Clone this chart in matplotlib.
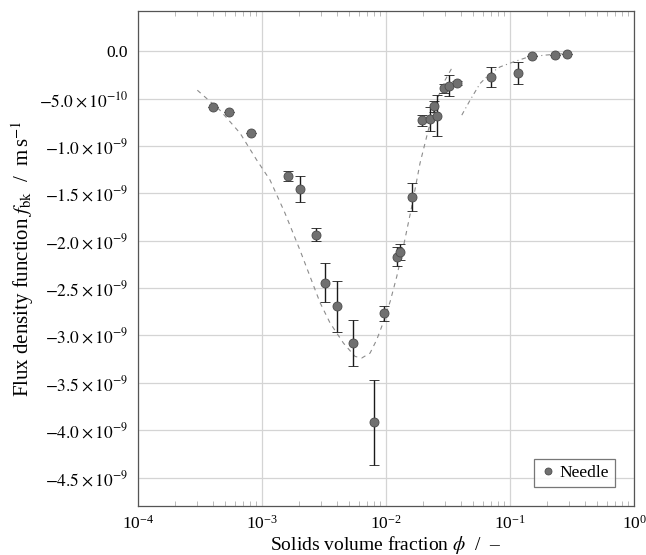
import numpy as np
import matplotlib
matplotlib.use('Agg')
import matplotlib.pyplot as plt
from matplotlib.lines import Line2D
from matplotlib.ticker import FuncFormatter, LogLocator, NullFormatter

plt.rcParams['font.family'] = ['Liberation Serif', 'DejaVu Serif']
plt.rcParams['mathtext.fontset'] = 'stix'

# measured data (phi, f_bk in m/s, error)
phi = [4.03e-4, 5.42e-4, 8.15e-4, 1.63e-3, 2.04e-3, 2.71e-3, 3.24e-3, 4.04e-3,
       5.42e-3, 8.05e-3, 9.69e-3, 1.22e-2, 1.30e-2, 1.62e-2, 1.94e-2, 2.26e-2,
       2.43e-2, 2.59e-2, 2.92e-2, 3.24e-2, 3.76e-2, 7.05e-2, 0.115, 0.150,
       0.229, 0.288]
fbk = [-0.59e-9, -0.643e-9, -0.861e-9, -1.314e-9, -1.454e-9, -1.935e-9,
       -2.445e-9, -2.694e-9, -3.08e-9, -3.916e-9, -2.768e-9, -2.167e-9,
       -2.12e-9, -1.535e-9, -0.727e-9, -0.713e-9, -0.58e-9, -0.678e-9,
       -0.39e-9, -0.362e-9, -0.333e-9, -0.27e-9, -0.228e-9, -0.053e-9,
       -0.035e-9, -0.028e-9]
err = [0.0, 0.0, 0.0, 0.053e-9, 0.135e-9, 0.07e-9, 0.205e-9, 0.267e-9,
       0.242e-9, 0.448e-9, 0.08e-9, 0.1e-9, 0.086e-9, 0.149e-9, 0.058e-9,
       0.128e-9, 0.06e-9, 0.218e-9, 0.046e-9, 0.114e-9, 0.02e-9, 0.102e-9,
       0.12e-9, 0.0, 0.0, 0.0]

# model curve, low concentration branch
fit1_phi = [3.01e-4, 4.58e-4, 6.65e-4, 9.07e-4, 1.16e-3, 1.53e-3, 2.02e-3,
            2.44e-3, 2.94e-3, 3.53e-3, 4.53e-3, 5.62e-3, 6.37e-3, 7.43e-3,
            8.41e-3, 9.51e-3, 1.08e-2, 1.22e-2, 1.38e-2, 1.61e-2, 1.88e-2,
            2.19e-2, 2.56e-2, 2.99e-2, 3.49e-2]
fit1_f = [-0.411e-9, -0.622e-9, -0.864e-9, -1.149e-9, -1.359e-9, -1.707e-9,
          -2.097e-9, -2.378e-9, -2.655e-9, -2.866e-9, -3.08e-9, -3.221e-9,
          -3.238e-9, -3.186e-9, -3.045e-9, -2.86e-9, -2.64e-9, -2.378e-9,
          -2.062e-9, -1.641e-9, -1.18e-9, -0.833e-9, -0.516e-9, -0.306e-9,
          -0.148e-9]

# model curve, high concentration branch
fit2_phi = [4.08e-2, 4.76e-2, 5.73e-2, 6.90e-2, 8.30e-2, 0.106, 0.136, 0.186,
            0.253, 0.294]
fit2_f = [-0.674e-9, -0.516e-9, -0.34e-9, -0.235e-9, -0.165e-9, -0.113e-9,
          -0.066e-9, -0.042e-9, -0.028e-9, -0.021e-9]


def sci_fmt(v, pos):
    if abs(v) < 1e-20:
        return '0.0'
    exp = int(np.floor(np.log10(abs(v)) + 1e-9))
    mant = round(v / 10**exp, 3)
    return r'$%.1f \times 10^{%d}$' % (mant, exp)


fig = plt.figure(figsize=(6.46, 5.55), dpi=100)
ax = fig.add_axes([0.2136, 0.0883, 0.768, 0.891])

ax.plot(fit1_phi, fit1_f, linestyle=(0, (4, 4)), color='#8c8c8c', lw=0.8)
ax.plot(fit2_phi, fit2_f, linestyle=(0, (4, 3, 1, 3)), color='#8c8c8c', lw=0.8)
ax.errorbar(phi, fbk, yerr=err, fmt='o', color='#707070', mec='#4a4a4a',
            mew=0.6, ms=6.5, ecolor='#1a1a1a', elinewidth=1.0, capsize=3.5,
            capthick=1.0, zorder=3)

ax.set_xscale('log')
ax.set_xlim(1e-4, 1)
ax.set_ylim(-4.8e-9, 0.42e-9)
ax.set_yticks(np.arange(-4.5e-9, 0.1e-9, 0.5e-9))
ax.yaxis.set_major_formatter(FuncFormatter(sci_fmt))
ax.xaxis.set_minor_locator(LogLocator(base=10, subs=np.arange(2, 10)))
ax.xaxis.set_minor_formatter(NullFormatter())

ax.grid(True, which='major', color='#d4d4d4', lw=0.9)
ax.set_axisbelow(True)
ax.tick_params(which='major', length=0, labelsize=12.5, pad=7)
ax.tick_params(axis='x', which='major', pad=6)
ax.tick_params(axis='x', which='minor', direction='in', length=3.5,
               color='#b0b0b0', top=True, bottom=True)
for s in ax.spines.values():
    s.set_color('#555555')
    s.set_linewidth(0.9)

ax.set_xlabel(r'Solids volume fraction $\phi$  /  –', fontsize=14)
ax.xaxis.set_label_coords(0.5, -0.057)
ax.set_ylabel(r'Flux density function $f_{\mathrm{bk}}$  /  m$\,$s$^{-1}$',
              fontsize=15, labelpad=2)

handle = Line2D([], [], marker='o', ls='none', color='#707070', mec='#4a4a4a',
                mew=0.6, ms=5)
leg = ax.legend([handle], ['Needle'], loc='lower right', fontsize=12.5,
                fancybox=False, edgecolor='#555555', handletextpad=0.2,
                borderaxespad=1.1, handlelength=0.9, borderpad=0.35)
leg.get_frame().set_linewidth(0.9)

fig.savefig('out.png', dpi=100)
